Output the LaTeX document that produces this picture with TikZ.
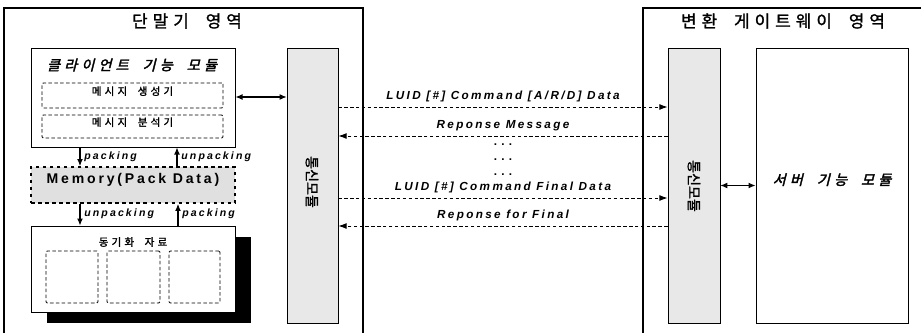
\documentclass[tikz,border=0pt]{standalone}
\usepackage{fontspec}
\setmainfont{Liberation Sans}
\newfontfamily\kofont{Noto Sans CJK KR}[FakeBold=1.5]
\newfontfamily\koslant{Noto Sans CJK KR}[FakeBold=2.5,FakeSlant=0.25]
\newfontfamily\msgfont{Liberation Sans}[LetterSpace=20]
\newcommand{\ks}{\hspace{0.3em}}
\usetikzlibrary{arrows.meta,fit,positioning}
\tikzset{
  region/.style={line width=1.3pt},
  box/.style={draw, line width=0.8pt, inner sep=0pt},
  dashbox/.style={draw, densely dashed, line width=0.8pt, rounded corners=1pt, inner sep=0pt},
  commbox/.style={draw, line width=0.6pt, fill=black!9, inner sep=0pt},
  membox/.style={draw, dashed, line width=1.6pt, fill=black!12, inner sep=0pt},
  msg/.style={densely dashed, line width=0.8pt, -{Latex[length=7pt,width=5pt]}},
  flow/.style={line width=0.9pt, -{Latex[length=6pt,width=5pt]}},
  both/.style={line width=0.9pt, {Latex[length=6pt,width=5pt]}-{Latex[length=6pt,width=5pt]}},
  msglabel/.style={font=\msgfont\bfseries\itshape\normalsize},
  flowlabel/.style={font=\msgfont\bfseries\itshape\small, anchor=west, inner sep=1pt},
  commtext/.style={rotate=-90, font=\kofont\large, text=black}
}

\begin{document}
\begin{tikzpicture}[x=0.03cm, y=-0.03cm]
  \useasboundingbox (0,0) rectangle (921,333);
  % areas
  \draw[region] (4,333) -- (4,8) -- (363,8) -- (363,333);
  \draw[region] (921,8) -- (643,8) -- (643,333);
  \node[font=\kofont\Large] (titleL) at (187,21) {단\ks 말\ks 기\quad 영\ks 역};
  \node[font=\kofont\Large] (titleR) at (783,21) {변\ks 환\quad 게\ks 이\ks 트\ks 웨\ks 이\quad 영\ks 역};

  % terminal side
  \node[box, fit={(31,48) (235,147)}] (client) {};
  \node[font=\koslant\large] (clienttitle) at (132,65) {클\ks 라\ks 이\ks 언\ks 트\quad 기\ks 능\quad 모\ks 듈};
  \node[dashbox, fit={(42,83) (223,108)}, font=\kofont\small] (gen) {메\ks 시\ks 지\quad 생\ks 성\ks 기};
  \node[dashbox, fit={(42,115) (223,138)}, font=\kofont\small] (ana) {메\ks 시\ks 지\quad 분\ks 석\ks 기};

  \node[membox, fit={(31,167) (235,203)}, font=\msgfont\bfseries\large] (memory) {Memory(Pack Data)};

  \fill[black] (47,237) rectangle (251,323);
  \node[box, fill=white, fit={(31,226) (235,312)}] (sync) {};
  \node[font=\kofont\small] (synctitle) at (133,242) {동\ks 기\ks 화\quad 자\ks 료};
  \node[dashbox, fit={(46,251) (98,303)}] (slot1) {};
  \node[dashbox, fit={(107,251) (160,303)}] (slot2) {};
  \node[dashbox, fit={(169,251) (220,303)}] (slot3) {};

  \node[commbox, fit={(287,48) (338,323)}] (commL) {};
  \node[commtext] at (312,182) {통신모듈};

  \draw[flow] (client.south -| 80,0) -- (memory.north -| 80,0);
  \node[flowlabel] at (83,157) {packing};
  \draw[flow] (memory.north -| 177,0) -- (client.south -| 177,0);
  \node[flowlabel] at (180,157) {unpacking};
  \draw[flow] (memory.south -| 80,0) -- (sync.north -| 80,0);
  \node[flowlabel] at (83,214) {unpacking};
  \draw[flow] (sync.north -| 178,0) -- (memory.south -| 178,0);
  \node[flowlabel] at (181,214) {packing};

  \draw[both] (client.east |- 0,97) -- (commL.west |- 0,97);

  % gateway side
  \node[commbox, fit={(668,48) (720,323)}] (commR) {};
  \node[commtext] at (694,186) {통신모듈};
  \node[box, fit={(756,48) (908,323)}, font=\koslant\large] (server) {서\ks 버\quad 기\ks 능\quad 모\ks 듈};
  \draw[both] (commR.east) -- (server.west);

  % messages
  \draw[msg] (commL.east |- 0,107) -- (commR.west |- 0,107)
    node[msglabel, midway, above=1pt] {LUID [\#] Command [A/R/D] Data};
  \draw[msg] (commR.west |- 0,136) -- (commL.east |- 0,136)
    node[msglabel, midway, above=1pt] {Reponse Message};
  \node[font=\bfseries] (dots1) at (503,145) {. . .};
  \node[font=\bfseries] (dots2) at (503,160) {. . .};
  \node[font=\bfseries] (dots3) at (503,175) {. . .};
  \draw[msg] (commL.east |- 0,198) -- (commR.west |- 0,198)
    node[msglabel, midway, above=1pt] {LUID [\#] Command Final Data};
  \draw[msg] (commR.west |- 0,226) -- (commL.east |- 0,226)
    node[msglabel, midway, above=1pt] {Reponse for Final};
\end{tikzpicture}
\end{document}
